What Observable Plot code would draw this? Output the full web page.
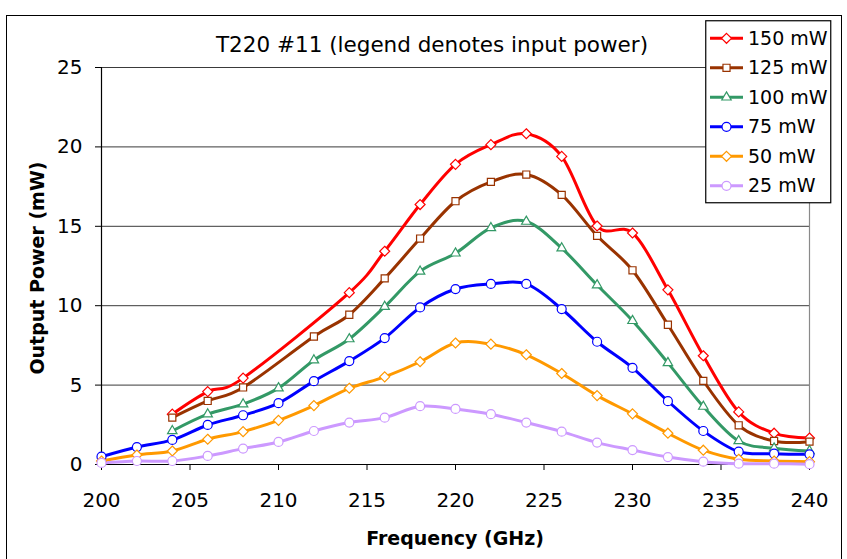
<!DOCTYPE html>
<html>
<head>
<meta charset="utf-8">
<script src="https://cdn.jsdelivr.net/npm/d3@7"></script>
<script src="https://cdn.jsdelivr.net/npm/@observablehq/plot@0.6"></script>
<style>
  html, body { margin: 0; padding: 0; background: #fff; }
  #wrap { position: relative; width: 847px; height: 559px; overflow: hidden; font-family: "DejaVu Sans", sans-serif; color: #000; }
  #wrap > svg { position: absolute; left: 0; top: 0; }
  .ov { position: absolute; white-space: nowrap; line-height: 1; }
</style>
</head>
<body>
<div id="wrap"></div>
<script>
// ---- data ----
const freq = [200, 202, 204, 206, 208, 210, 212, 214, 216, 218, 220, 222, 224, 226, 228, 230, 232, 234, 236, 238, 240];
const seriesNames = ["150 mW", "125 mW", "100 mW", "75 mW", "50 mW", "25 mW"];
const p150 = [null, null, 3.17, 4.59, 5.44, null, null, 10.82, 13.43, 16.37, 18.9, 20.14, 20.83, 19.4, 15.02, 14.58, 11.0, 6.85, 3.31, 1.97, 1.67];
const p125 = [null, null, 2.95, 4.0, 4.85, null, 8.06, 9.43, 11.72, 14.23, 16.58, 17.8, 18.26, 16.98, 14.4, 12.23, 8.8, 5.27, 2.47, 1.48, 1.44];
const p100 = [null, null, 2.11, 3.17, 3.8, 4.81, 6.57, 7.9, 9.94, 12.16, 13.3, 14.9, 15.3, 13.62, 11.3, 9.05, 6.4, 3.65, 1.48, 1.02, 0.85];
const p75  = [0.49, 1.1, 1.55, 2.49, 3.1, 3.86, 5.25, 6.51, 7.96, 9.89, 11.05, 11.37, 11.37, 9.79, 7.73, 6.09, 3.99, 2.11, 0.81, 0.68, 0.64];
const p50  = [0.22, 0.6, 0.85, 1.59, 2.07, 2.78, 3.71, 4.8, 5.52, 6.47, 7.65, 7.58, 6.91, 5.73, 4.34, 3.19, 1.97, 0.9, 0.33, 0.22, 0.18];
const p25  = [0.1, 0.22, 0.22, 0.54, 1.0, 1.42, 2.11, 2.64, 2.95, 3.67, 3.5, 3.17, 2.64, 2.07, 1.38, 0.91, 0.47, 0.18, 0.05, 0.05, 0.02];
const xTicks = [200, 205, 210, 215, 220, 225, 230, 235, 240];
const yTicks = [0, 5, 10, 15, 20, 25];
const titleText = "T220 #11 (legend denotes input power)";
const xLabel = "Frequency (GHz)";
const yLabel = "Output Power (mW)";

// ---- styles ----
const colors = ["#FF0000", "#993300", "#339966", "#0000FF", "#FF9900", "#CC99FF"];
const symbols = ["diamond2", "square2", "triangle2", "circle", "diamond2", "circle"];
const d3symbols = [d3.symbolDiamond2, d3.symbolSquare2, d3.symbolTriangle2, d3.symbolCircle, d3.symbolDiamond2, d3.symbolCircle];
const markerR = 4.5;

const allSeries = [p150, p125, p100, p75, p50, p25];
const rows = [];
allSeries.forEach((arr, s) => {
  arr.forEach((v, i) => {
    if (v != null) rows.push({ f: freq[i], v, s: seriesNames[s] });
  });
});

const marks = [
  Plot.ruleY(yTicks.filter(d => d > 0), { stroke: "#3a3a3a", strokeWidth: 1 }),
  Plot.ruleX([240], { stroke: "#8a8a8a", strokeWidth: 1.2 }),
  Plot.ruleX([200], { stroke: "#000", strokeWidth: 1.2 }),
  Plot.ruleY([0], { stroke: "#000", strokeWidth: 1.2 }),
  Plot.axisX({ ticks: xTicks, tickSize: 6, tickPadding: 22, fontSize: 20, label: null, tickFormat: d => String(d) }),
  Plot.axisY({ ticks: yTicks, tickSize: 6, tickPadding: 13, fontSize: 20, label: null, tickFormat: d => String(d) })
];
seriesNames.forEach((name, s) => {
  const data = rows.filter(r => r.s === name);
  marks.push(Plot.line(data, { x: "f", y: "v", stroke: colors[s], strokeWidth: 3, curve: "cardinal", tension: 0 }));
});
seriesNames.forEach((name, s) => {
  const data = rows.filter(r => r.s === name);
  marks.push(Plot.dot(data, { x: "f", y: "v", symbol: () => symbols[s], r: markerR, fill: "white", stroke: colors[s], strokeWidth: 1.2 }));
});

const chart = Plot.plot({
  width: 847,
  height: 559,
  marginLeft: 101,
  marginRight: 38,
  marginTop: 67,
  marginBottom: 95,
  style: { fontFamily: "DejaVu Sans, sans-serif", fontSize: "20px", color: "#000", background: "transparent" },
  x: { domain: [200, 240] },
  y: { domain: [0, 25] },
  symbol: { type: "identity" },
  marks
});

const wrap = document.getElementById("wrap");
wrap.appendChild(chart);

// outer chart border
const border = document.createElement("div");
border.style.cssText = "position:absolute;left:6px;top:15px;width:834px;height:600px;border:1.5px solid #000;pointer-events:none;";
wrap.appendChild(border);

// title
const t = document.createElement("div");
t.className = "ov";
t.textContent = titleText;
t.style.cssText += "left:432px;top:34px;transform:translateX(-50%);font-size:21.5px;";
wrap.appendChild(t);

// x axis title
const xl = document.createElement("div");
xl.className = "ov";
xl.textContent = xLabel;
xl.style.cssText += "left:455px;top:529px;transform:translateX(-50%);font-size:19px;font-weight:bold;";
wrap.appendChild(xl);

// y axis title
const yl = document.createElement("div");
yl.className = "ov";
yl.textContent = yLabel;
yl.style.cssText += "left:37px;top:268px;transform:translate(-50%,-50%) rotate(-90deg);font-size:19px;font-weight:bold;";
wrap.appendChild(yl);

// legend
const lg = d3.select(wrap).append("svg")
  .attr("width", 127).attr("height", 184)
  .style("position", "absolute").style("left", "705px").style("top", "20px");
lg.append("rect").attr("x", 0.75).attr("y", 0.75).attr("width", 125).attr("height", 182)
  .attr("fill", "white").attr("stroke", "#000").attr("stroke-width", 1.2);
seriesNames.forEach((name, s) => {
  const cy = 18.3 + s * 29.5;
  const g = lg.append("g");
  g.append("line").attr("x1", 5).attr("x2", 38).attr("y1", cy).attr("y2", cy)
    .attr("stroke", colors[s]).attr("stroke-width", 3);
  g.append("path")
    .attr("d", d3.symbol(d3symbols[s], Math.PI * markerR * markerR)())
    .attr("transform", `translate(21.5,${cy})`)
    .attr("fill", "white").attr("stroke", colors[s]).attr("stroke-width", 1.2);
  g.append("text").attr("x", 43).attr("y", cy).attr("dy", "0.35em")
    .attr("font-family", "DejaVu Sans, sans-serif").attr("font-size", 19).attr("fill", "#000")
    .text(name);
});
</script>
</body>
</html>
